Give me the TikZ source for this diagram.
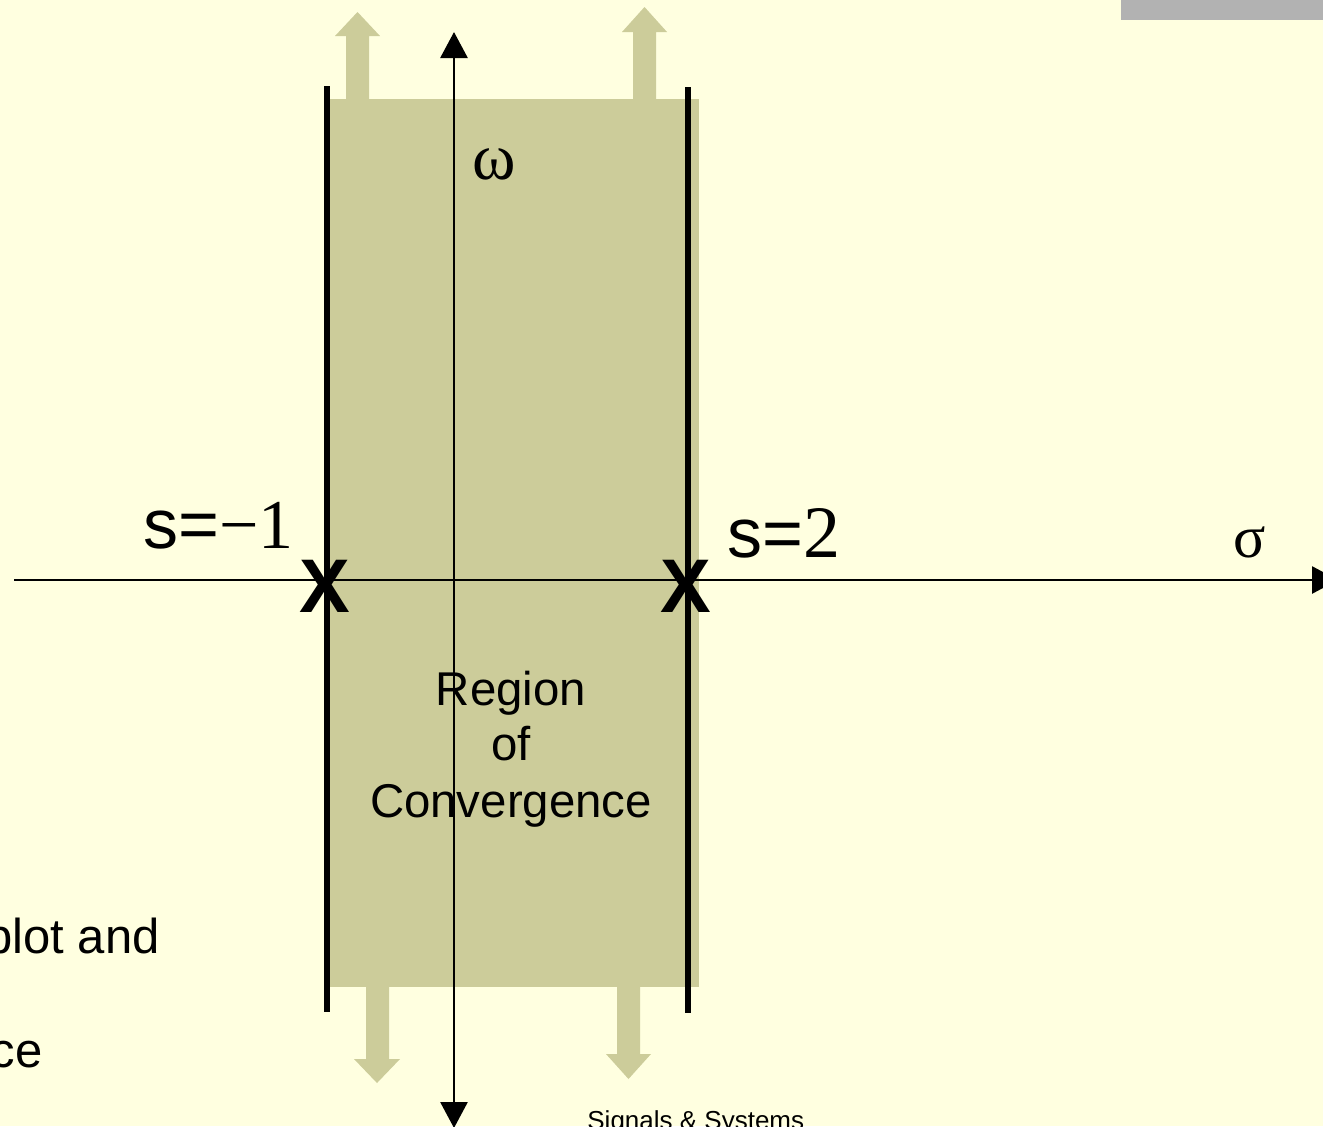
\documentclass[tikz,border=0pt]{standalone}
\usepackage{fontspec}
\setmainfont{Liberation Sans}
\newfontfamily\tms{Liberation Serif}
\usetikzlibrary{arrows.meta}
\definecolor{bgc}{HTML}{FFFFE0}
\definecolor{roc}{HTML}{CCCC9A}
\definecolor{grayc}{HTML}{B2B2B2}
\tikzset{
  blockarrow/.style={fill=roc, draw=none},
  boundary/.style={line width=2.8pt, black},
  axis/.style={line width=1.4pt, black, -{Triangle[width=13.5pt,length=13pt]}},
  lbl/.style={inner sep=0pt, anchor=base},
}
\begin{document}
\begin{tikzpicture}[x=0.5pt,y=-0.5pt]
\useasboundingbox (0,0) rectangle (1323,1126);
\clip (0,0) rectangle (1323,1126);
\fill[bgc] (0,0) rectangle (1323,1126);
\fill[grayc] (1121,0) rectangle (1323,20);
% region of convergence
\fill[roc] (330,99) rectangle (699,987);
% block arrows
\fill[blockarrow] (346,100) -- (346,36) -- (335,36) -- (357.5,12) -- (380,36) -- (369,36) -- (369,100) -- cycle;
\fill[blockarrow] (633,100) -- (633,32) -- (622,32) -- (644.5,7) -- (667,32) -- (656,32) -- (656,100) -- cycle;
\fill[blockarrow] (366,986) -- (366,1059) -- (354,1059) -- (377,1083) -- (400,1059) -- (389,1059) -- (389,986) -- cycle;
\fill[blockarrow] (617,986) -- (617,1054) -- (606,1054) -- (628.5,1079) -- (651,1054) -- (640,1054) -- (640,986) -- cycle;
% boundaries
\coordinate (lt) at (327,86);
\coordinate (lb) at (327,1012);
\coordinate (rt) at (688,87);
\coordinate (rb) at (688,1013);
\draw[boundary] (lt) -- (lb);
\draw[boundary] (rt) -- (rb);
% axes
\coordinate (sigL) at (14,580);
\coordinate (sigR) at (1338,580);
\coordinate (omT) at (454,32);
\coordinate (omB) at (454,1128);
\coordinate (omM) at (454,580);
\draw[axis] (sigL) -- (sigR);
\draw[axis] (omM) -- (omT);
\draw[axis] (omM) -- (omB);
% labels
\node[inner sep=0pt, font=\tms\fontsize{33}{35}\selectfont] (omega) at (494,164) {ω};
\node[inner sep=0pt, font=\tms\fontsize{30}{32}\selectfont] (sigma) at (1250,542) {σ};
\node[lbl, anchor=base west, font=\fontsize{35}{38}\selectfont] (sm1) at (143,548) {s=\tms −1};
\node[lbl, anchor=base west, font=\fontsize{35}{38}\selectfont] (s2) at (727,557) {s=\tms\fontsize{37}{40}\selectfont 2};
\node[inner sep=0pt, font=\bfseries\fontsize{38}{40}\selectfont] (x1) at (325,586) {X};
\node[inner sep=0pt, font=\bfseries\fontsize{38}{40}\selectfont] (x2) at (686,586) {X};
\node[lbl, font=\fontsize{23.7}{28}\selectfont] (r1) at (511,705) {Region};
\node[lbl, font=\fontsize{23.7}{28}\selectfont] (r2) at (511,760) {of};
\node[lbl, font=\fontsize{23.7}{28}\selectfont] (r3) at (511,817) {Convergence};
\node[lbl, anchor=base east, font=\fontsize{24.5}{28}\selectfont] (pa) at (160,953) {plot and};
\node[lbl, anchor=base east, font=\fontsize{24.5}{28}\selectfont] (ce) at (43,1067) {ce};
\node[lbl, anchor=base west, font=\fontsize{13}{15}\selectfont] (ss) at (587,1129) {Signals \& Systems};
\end{tikzpicture}
\end{document}
